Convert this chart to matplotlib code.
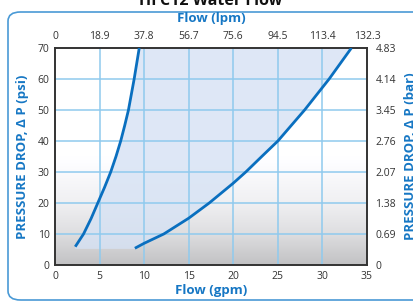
import numpy as np
import matplotlib
matplotlib.use("Agg")
import matplotlib.pyplot as plt
from matplotlib.patches import FancyBboxPatch, Polygon

# ---- data ----
gpm_ticks = [0, 5, 10, 15, 20, 25, 30, 35]
lpm_labels = ["0", "18.9", "37.8", "56.7", "75.6", "94.5", "113.4", "132.3"]
psi_ticks = [0, 10, 20, 30, 40, 50, 60, 70]
bar_labels = ["0", "0.69", "1.38", "2.07", "2.76", "3.45", "4.14", "4.83"]

left_gpm = [2.27, 3.2, 4.05, 4.8, 5.55, 6.25, 6.84, 7.37, 7.82, 8.24, 8.88, 9.45]
left_psi = [5.9, 10, 15, 20, 25, 30, 35, 40, 45, 50, 60, 70]
right_gpm = [8.96, 10.0, 12.2, 15.0, 17.3, 20.0, 21.4, 23.3, 25.0, 28.0, 30.75, 33.25]
right_psi = [5.4, 7.0, 10, 15.1, 20, 26.4, 30, 35.3, 40, 50, 60, 70]
fill_floor_psi = 5.2

BLUE = "#1677c4"
LINE = "#0a6fbf"
GRID = "#8fcaee"
TXT = "#333333"

plt.rcParams['font.family'] = ['Open Sans', 'DejaVu Sans']

fig = plt.figure(figsize=(4.14, 3.02), dpi=100)
fig.patch.set_facecolor("white")

# rounded frame around chart
frame = FancyBboxPatch((8/414, 2/302), 440/414, 288/302,
                       boxstyle="round,pad=0,rounding_size=0.03",
                       transform=fig.transFigure, fill=False,
                       edgecolor="#4a9ad6", linewidth=1.2, zorder=0)
fig.add_artist(frame)

fig.text(211/414, 1 - 5/302, "HFC12 Water Flow", ha="center", va="baseline",
         fontsize=11.5, fontweight="bold", color="#111111")

ax = fig.add_axes([55/414, 1 - 265/302, 312/414, 217/302])
ax.set_xlim(0, 35)
ax.set_ylim(0, 70)

# background gradient
ys = np.linspace(0, 70, 200)
g = np.interp(ys, [0, 10, 20, 35, 70], [194, 222, 240, 255, 255]) / 255.0
grad = np.stack([g, g, g * 1.01], axis=-1)
grad = np.clip(grad, 0, 1)[:, None, :]
ax.imshow(grad, extent=[0, 35, 0, 70], origin="lower", aspect="auto", zorder=0)

# shaded operating region
poly_x = left_gpm + right_gpm[::-1] + [right_gpm[0], left_gpm[0]]
poly_y = left_psi + right_psi[::-1] + [fill_floor_psi, fill_floor_psi]
ax.add_patch(Polygon(np.column_stack([poly_x, poly_y]), closed=True,
                     facecolor="#d6e2f4", alpha=0.8, edgecolor="none", zorder=1))

for t in gpm_ticks[1:-1]:
    ax.axvline(t, color=GRID, lw=1.1, zorder=2)
for t in psi_ticks[1:-1]:
    ax.axhline(t, color=GRID, lw=1.1, zorder=2)

ax.plot(left_gpm, left_psi, color=LINE, lw=2.0, zorder=3,
        solid_capstyle="butt", solid_joinstyle="round")
ax.plot(right_gpm, right_psi, color=LINE, lw=2.0, zorder=3,
        solid_capstyle="butt", solid_joinstyle="round")

for s in ax.spines.values():
    s.set_color("#333333")
    s.set_linewidth(1.4)

ax.set_xticks(gpm_ticks)
ax.set_xticklabels([str(t) for t in gpm_ticks])
ax.set_yticks(psi_ticks)
ax.set_yticklabels([str(t) for t in psi_ticks])
ax.tick_params(length=0, labelsize=7.5, colors=TXT, pad=4)

ax.set_xlabel("Flow (gpm)", color=BLUE, fontsize=9.5, fontweight="bold", labelpad=2)
ax.set_ylabel("PRESSURE DROP, \u0394 P (psi)", color=BLUE, fontsize=9.5,
              fontweight="bold", labelpad=6)

axt = ax.twiny()
axt.set_xlim(ax.get_xlim())
axt.set_xticks(gpm_ticks)
axt.set_xticklabels(lpm_labels)
axt.tick_params(length=0, labelsize=7.5, colors=TXT, pad=4)
axt.set_xlabel("Flow (lpm)", color=BLUE, fontsize=9.5, fontweight="bold", labelpad=7)
for s in axt.spines.values():
    s.set_visible(False)

axr = ax.twinx()
axr.set_ylim(ax.get_ylim())
axr.set_yticks(psi_ticks)
axr.set_yticklabels(bar_labels)
axr.tick_params(length=0, labelsize=7.5, colors=TXT, pad=6)
axr.set_ylabel("PRESSURE DROP, \u0394 P (bar)", color=BLUE, fontsize=9.5,
               fontweight="bold", labelpad=6)
for s in axr.spines.values():
    s.set_visible(False)

fig.savefig("out.png", dpi=100)
